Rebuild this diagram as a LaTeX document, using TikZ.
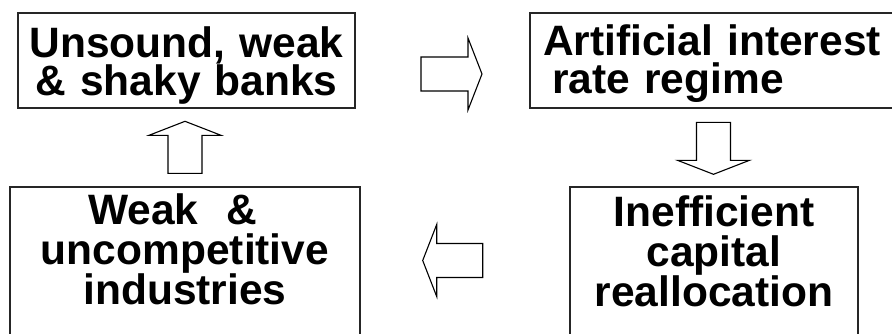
\documentclass[tikz,border=0pt]{standalone}
\usepackage{fontspec}
\setmainfont{Liberation Sans}

\tikzset{
  box/.style={draw=black!85, line width=1.2pt, inner sep=0pt, outer sep=0pt,
    anchor=north west, align=center,
    font=\fontsize{42.5}{#1}\selectfont\bfseries},
  blockline/.style={draw=black, line width=1.1pt, line join=miter},
  pics/fatarrow/.style={code={
    \draw[blockline] (0,-17) -- (#1,-17) -- (#1,-36) -- (#1+14,0)
      -- (#1,36) -- (#1,17) -- (0,17) -- cycle;
  }}
}

\begin{document}
\begin{tikzpicture}[x=1pt,y=-1pt]
\useasboundingbox (0,0) rectangle (892,333);
\clip (0,0) rectangle (892,333);

% the four boxes
\node[box=37, text width=337pt, minimum height=95pt,
  text height=44pt, text depth=51pt] (banks) at (18,13)
  {Unsound, weak\\\& shaky banks};
\node[box=38, text width=364pt, minimum height=95pt,
  text height=42pt, text depth=53pt] (rate) at (530,13)
  {Artificial interest\\rate regime\hbox to 88pt{}};
\node[box=40, text width=350pt, minimum height=180pt,
  text height=37pt, text depth=143pt] (industries) at (10,187)
  {Weak\ \ \&\hbox to 24pt{}\\uncompetitive\\industries};
\node[box=40, text width=288pt, minimum height=180pt,
  text height=39pt, text depth=141pt] (realloc) at (570,187)
  {Inefficient\\capital\\reallocation};

% block arrows
\pic at (421,74) {fatarrow=47};
\pic[rotate=-90] at (713.5,122.3) {fatarrow=38};
\pic[rotate=180] at (482.7,260.5) {fatarrow=46};
\pic[rotate=90] at (185,173.3) {fatarrow=38};
\end{tikzpicture}
\end{document}
